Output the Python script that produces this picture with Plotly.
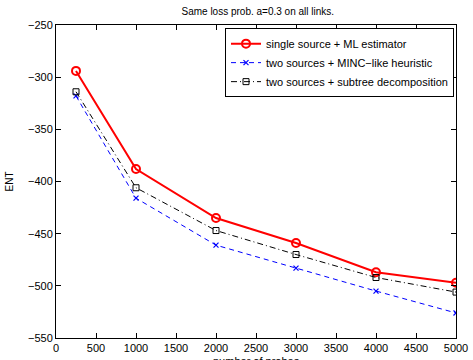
import plotly.graph_objects as go

probes = [250, 1000, 2000, 3000, 4000, 5000]
single_ml = [-294, -388, -435, -459, -487, -497]
two_minc = [-318, -416, -461, -483, -505, -526]
two_subtree = [-314, -406, -447, -470, -492, -506]

names = ["single source + ML estimator",
         "two sources + MINC\u2212like heuristic",
         "two sources + subtree decomposition"]

fig = go.Figure()
fig.add_trace(go.Scatter(x=probes, y=single_ml, name=names[0], mode="lines+markers",
                         line=dict(color="red", width=2),
                         marker=dict(symbol="circle-open", size=8, color="red", line=dict(width=2))))
fig.add_trace(go.Scatter(x=probes, y=two_minc, name=names[1], mode="lines+markers",
                         line=dict(color="blue", width=1, dash="5px,4px"),
                         marker=dict(symbol="x-thin-open", size=5, color="blue", line=dict(width=1.2, color="blue"))))
fig.add_trace(go.Scatter(x=probes, y=two_subtree, name=names[2], mode="lines+markers",
                         line=dict(color="black", width=1, dash="6px,3px,1px,3px"),
                         marker=dict(symbol="square-open", size=6, color="black", line=dict(width=1))))

axis_common = dict(showline=True, linecolor="black", linewidth=1, mirror="ticks",
                   ticks="inside", ticklen=5, tickcolor="black", showgrid=False, zeroline=False,
                   automargin=False,
                   tickfont=dict(family="Liberation Sans, Arial", size=11, color="black"))

fig.update_layout(
    width=473, height=360,
    margin=dict(l=56, r=17, t=25, b=22),
    paper_bgcolor="white", plot_bgcolor="white",
    title=dict(text="Same loss prob. a=0.3 on all links.", x=0.545, xanchor="center",
               y=0.967, yanchor="middle",
               font=dict(family="Liberation Sans, Arial", size=10, color="black")),
    xaxis=dict(range=[0, 5000], tickvals=list(range(0, 5001, 500)), **axis_common),
    yaxis=dict(range=[-550, -250], tickvals=list(range(-550, -249, 50)),
               title=dict(text="ENT", standoff=12,
                          font=dict(family="Liberation Sans, Arial", size=10, color="black")),
               **axis_common),
    legend=dict(x=0.995, y=0.99, xanchor="right", yanchor="top",
                bgcolor="white", bordercolor="black", borderwidth=1,
                font=dict(family="Liberation Sans, Arial", size=11, color="black"),
                tracegroupgap=0, itemwidth=30),
    showlegend=True,
    annotations=[dict(text="number of probes", xref="paper", yref="paper", x=0.5, y=0,
                      xanchor="center", yanchor="top", yshift=-15, showarrow=False,
                      font=dict(family="Liberation Sans, Arial", size=11, color="black"))],
)

fig.write_html("out.html")
